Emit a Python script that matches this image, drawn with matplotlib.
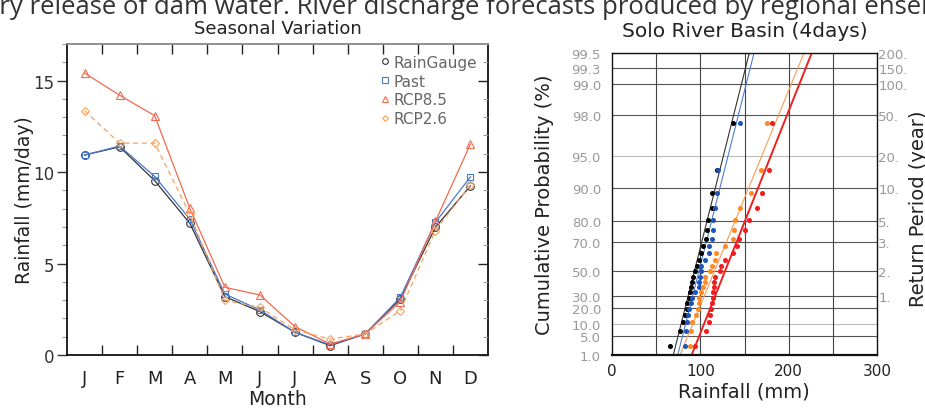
import matplotlib
matplotlib.use('Agg')

import numpy as np
import matplotlib.pyplot as plt
from matplotlib.ticker import FixedLocator, NullFormatter

# ---- seasonal variation (mm/day) ----
months = ['J', 'F', 'M', 'A', 'M', 'J', 'J', 'A', 'S', 'O', 'N', 'D']
rain_gauge = [10.93, 11.38, 9.53, 7.20, 3.19, 2.37, 1.24, 0.51, 1.15, 3.06, 6.98, 9.25]
past = [10.93, 11.42, 9.76, 7.43, 3.33, 2.46, 1.24, 0.55, 1.15, 3.15, 7.25, 9.74]
rcp85 = [15.41, 14.20, 13.08, 8.02, 3.70, 3.28, 1.55, 0.60, 1.15, 2.92, 7.30, 11.53]
rcp26 = [13.35, 11.58, 11.58, 7.70, 3.00, 2.60, 1.37, 0.87, 1.15, 2.42, 6.80, 9.30]

# ---- 4-day annual max rainfall (mm), sorted ----
ams_gauge = [65.5, 77, 80, 83, 84.5, 85.3, 86.8, 88.3, 89, 90.6, 92.1, 93.6,
             95.8, 98.9, 101, 103.4, 106.4, 107.2, 108.7, 113.2, 113.6, 118.5, 137.3]
ams_past = [82.3, 83.8, 85.3, 86, 87.6, 89, 90.6, 94.3, 98.1, 98.9, 99.6, 100.4,
            101.1, 105.7, 109.4, 110.2, 113.2, 114.7, 114.7, 116.2, 119.2, 120, 144.9]
ams_rcp26 = [88.7, 89.8, 90.6, 95.1, 97, 98.1, 98.9, 100.4, 102.6, 104.9, 105.7, 110.9,
             113.2, 116.2, 117.8, 128.3, 137.3, 138.1, 139.6, 144.9, 157, 169, 175.1]
ams_rcp85 = [94.5, 106, 109.5, 111.5, 112.5, 113.5, 114, 114.5, 115.5, 116, 117, 122.3,
             123, 127.6, 137.3, 141.1, 143.4, 151, 155, 164.5, 169.8, 177.4, 181.3]
# fitted gumbel lines: rainfall at 1.0 % and 99.5 %
fit_low = [69.4, 74.4, 77.0, 90.2]
fit_high = [155.4, 160.8, 217.4, 226.1]

prob_ticks = [1.0, 5.0, 10.0, 20.0, 30.0, 50.0, 70.0, 80.0, 90.0, 95.0, 98.0, 99.0, 99.3, 99.5]
rp_ticks = [30.0, 50.0, 70.0, 80.0, 90.0, 95.0, 98.0, 99.0, 99.3, 99.5]
rp_labels = ['1.', '2.', '3.', '5.', '10.', '20.', '50.', '100.', '150.', '200.']

plt.rcParams['font.family'] = ['DejaVu Sans']

fig = plt.figure(figsize=(9.25, 4.1), dpi=100)

fig.text(-0.016, 1 - 14/410, 'ary release of dam water. River discharge forecasts produced by regional ensemble',
         fontsize=18.5, color='#333333', family='Open Sans',
         ha='left', va='baseline')

# ================= left: seasonal =================
ax = fig.add_axes([67/925, 54/410, 421/925, 311/410])
x = np.arange(1, 13)
ax.plot(x, rain_gauge, color='#333333', lw=0.9, marker='o', ms=5.5, mfc='none', mew=0.8, label='RainGauge')
ax.plot(x, past, color='#4a78c8', lw=0.9, marker='s', ms=5, mfc='none', mew=0.8, label='Past')
ax.plot(x, rcp85, color='#f26a4f', lw=0.9, marker='^', ms=6, mfc='none', mew=0.8, label='RCP8.5')
ax.plot(x, rcp26, color='#f6a25e', lw=0.9, ls=(0, (4, 3)), marker='D', ms=4, mfc='none', mew=0.8, label='RCP2.6')

ax.set_xlim(0.5, 12.5)
ax.set_ylim(0, 17)
ax.set_xticks(x)
ax.set_xticklabels(months)
ax.xaxis.set_minor_locator(FixedLocator(np.arange(1.5, 12, 1.0)))
ax.set_yticks([0, 5, 10, 15])
ax.yaxis.set_minor_locator(FixedLocator(np.arange(0, 18, 1)))
ax.tick_params(axis='x', which='major', length=0, pad=10, labelsize=13, colors='#222222')
ax.tick_params(axis='x', which='minor', direction='in', length=7, top=True, width=1, color='#222222')
ax.tick_params(axis='y', which='major', direction='out', length=7, width=1, labelsize=12, colors='#333333', pad=2)
ax.tick_params(axis='y', which='minor', direction='out', length=3.5, width=0.8, color='#999999')
for s in ax.spines.values():
    s.set_linewidth(1.3)
    s.set_color('#111111')
ax.spines['top'].set_color('#888888')

axr = ax.twinx()
axr.set_ylim(0, 17)
axr.set_yticks([0, 5, 10, 15])
axr.yaxis.set_minor_locator(FixedLocator(np.arange(0, 18, 1)))
axr.yaxis.set_major_formatter(NullFormatter())
axr.tick_params(axis='y', which='major', direction='in', length=7, width=1, color='#222222')
axr.tick_params(axis='y', which='minor', direction='in', length=3.5, width=0.8, color='#999999')
for s in axr.spines.values():
    s.set_visible(False)

leg = ax.legend(loc='upper right', frameon=False, handlelength=0, handletextpad=0.6,
                fontsize=11, labelspacing=0.25, borderaxespad=0.3, markerscale=0.75)
for t in leg.get_texts():
    t.set_color('#666666')

ax.set_title('Seasonal Variation', fontsize=13, pad=8, color='#222222')
fig.text(25/925, 1 - 200/410, 'Rainfall (mm/day)', rotation=90, ha='center', va='center',
         fontsize=13.5, color='#222222')
fig.text(277/925, 1 - 400/410, 'Month', ha='center', va='center', fontsize=13.5, color='#222222')

# ================= right: gumbel probability paper =================
def gumbel(p):
    p = np.clip(np.asarray(p, dtype=float), 1e-6, 100 - 1e-6) / 100.0
    return -np.log(-np.log(p))


def gumbel_inv(u):
    return 100.0 * np.exp(-np.exp(-np.asarray(u, dtype=float)))


def setup_prob(a):
    a.set_yscale('function', functions=(gumbel, gumbel_inv))
    a.set_ylim(1.0, 99.5)


bx = fig.add_axes([612/925, 54/410, 265/925, 302/410])
setup_prob(bx)
bx.set_xlim(0, 300)

light = {10.0, 95.0}
for p in prob_ticks:
    bx.axhline(p, color='#bbbbbb' if p in light else '#555555', lw=0.8, zorder=0)
for xv in [50, 100, 150, 200, 250]:
    bx.axvline(xv, color='#444444', lw=0.8, zorder=0)

series = [(ams_gauge, '#000000', '#333333', 0.8),
          (ams_past, '#1f55b8', '#4f7fd0', 0.8),
          (ams_rcp26, '#ff8a25', '#ff9a50', 0.8),
          (ams_rcp85, '#ee1c1c', '#ee2020', 1.4)]
for i, (vals, c_pt, c_ln, lw) in enumerate(series):
    n = len(vals)
    rank = np.arange(1, n + 1)
    pos = 100.0 * (rank - 0.44) / (n + 0.12)   # Gringorten plotting position
    bx.plot(vals, pos, ls='none', marker='o', ms=2.6, color=c_pt, zorder=3)
    bx.plot([fit_low[i], fit_high[i]], [1.0, 99.5], color=c_ln, lw=lw, zorder=2)

bx.set_yticks(prob_ticks)
bx.set_yticklabels(['%.1f' % p for p in prob_ticks])
bx.yaxis.set_minor_locator(FixedLocator([]))
bx.set_xticks([0, 100, 200, 300])
bx.tick_params(axis='y', length=0, labelsize=9.5, colors='#999999', pad=8)
bx.tick_params(axis='x', length=0, labelsize=11, colors='#222222', pad=6)
for s in bx.spines.values():
    s.set_linewidth(1.0)
    s.set_color('#111111')
bx.spines['bottom'].set_linewidth(1.6)

bx2 = bx.twinx()
setup_prob(bx2)
bx2.set_yticks(rp_ticks)
bx2.set_yticklabels(rp_labels)
bx2.yaxis.set_minor_locator(FixedLocator([]))
bx2.tick_params(axis='y', length=0, labelsize=9.5, colors='#999999', pad=1)
for s in bx2.spines.values():
    s.set_visible(False)

bx.set_title('Solo River Basin (4days)', fontsize=14.5, pad=12, color='#222222')
fig.text(545/925, 1 - 205/410, 'Cumulative Probability (%)', rotation=90, ha='center', va='center',
         fontsize=14, color='#222222')
fig.text(744/925, 1 - 392/410, 'Rainfall (mm)', ha='center', va='center', fontsize=14, color='#222222')
fig.text(919/925, 1 - 209/410, 'Return Period (year)', rotation=90, ha='center', va='center',
         fontsize=14, color='#222222')

fig.savefig('out.png', dpi=100)
